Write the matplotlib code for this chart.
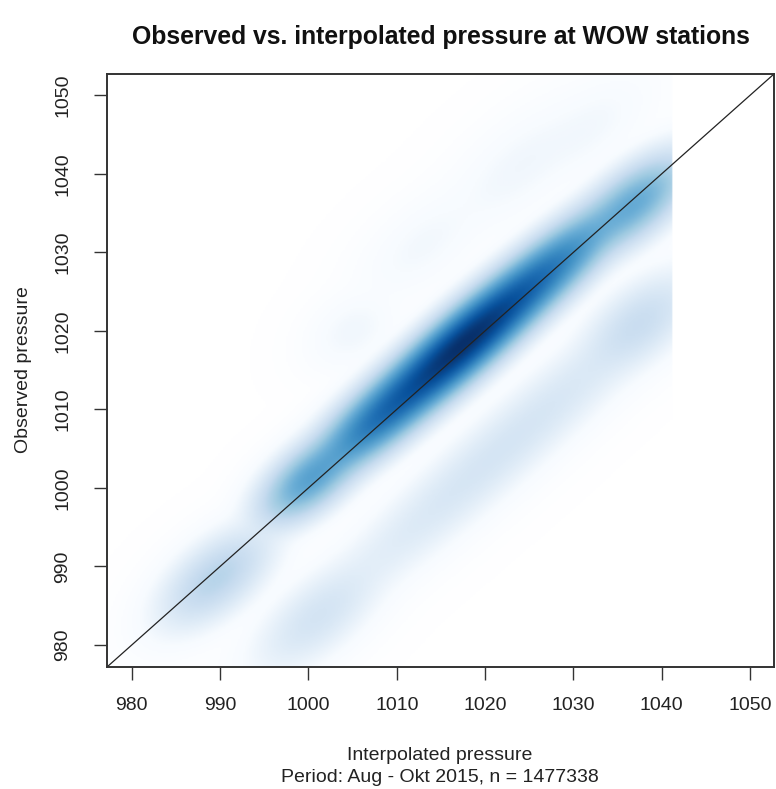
import numpy as np
import matplotlib
matplotlib.use("Agg")
import matplotlib.pyplot as plt
from matplotlib.colors import LinearSegmentedColormap

plt.rcParams["font.family"] = ["Liberation Sans", "DejaVu Sans"]

# density blobs: centre (x, y), spread along / across the 1:1 line, peak weight
blob_x = [1017.5, 1008.5, 1026.5, 1000.0, 1037.0, 989.5, 1022.0, 1037.5, 1001.0, 1005.0, 1013.0, 1024.0, 1032.0]
blob_y = [1018.3, 1009.5, 1027.0, 1001.0, 1036.3, 988.5, 1005.0, 1021.0, 983.5, 1020.0, 1031.0, 1041.0, 1046.0]
blob_along = [6.5, 5.0, 5.5, 3.0, 3.5, 3.5, 13.0, 3.5, 4.0, 2.5, 4.0, 5.0, 4.0]
blob_across = [1.55, 1.55, 1.55, 1.55, 1.65, 1.8, 1.9, 1.9, 1.9, 1.8, 2.0, 2.2, 2.0]
blob_weight = [1.0, 0.30, 0.26, 0.12, 0.10, 0.02, 0.005, 0.009, 0.005, 0.0004, 0.0003, 0.0004, 0.0003]
data_xmax = 1041.3

blues9 = ["#F7FBFF", "#DEEBF7", "#C6DBEF", "#9ECAE1", "#6BAED6",
          "#4292C6", "#2171B5", "#08519C", "#08306B"]
lims = (977.2, 1052.7)
xticks = [980, 990, 1000, 1010, 1020, 1030, 1040, 1050]

gx = np.linspace(lims[0], lims[1], 400)
X, Y = np.meshgrid(gx, gx)
dens = np.zeros_like(X)
for cx, cy, a, p, w in zip(blob_x, blob_y, blob_along, blob_across, blob_weight):
    u = ((X - cx) + (Y - cy)) / np.sqrt(2)
    v = ((Y - cy) - (X - cx)) / np.sqrt(2)
    dens += w * np.exp(-u ** 2 / (2 * a ** 2) - v ** 2 / (2 * p ** 2))
dens[X > data_xmax] = 0
dens = (dens / dens.max()) ** 0.25

cmap = LinearSegmentedColormap.from_list("sm", ["white"] + blues9)

fig = plt.figure(figsize=(7.76, 7.89), dpi=100)
ax = fig.add_axes([107 / 776, 1 - 667 / 789, 667 / 776, 593 / 789])
ax.imshow(dens, origin="lower", extent=(lims[0], lims[1], lims[0], lims[1]),
          cmap=cmap, vmin=0, vmax=1, aspect="auto", interpolation="bilinear")
ax.plot(lims, lims, color="#222222", lw=0.9)
ax.set_xlim(lims)
ax.set_ylim(lims)
ax.set_xticks(xticks)
ax.set_yticks(xticks)
ax.tick_params(direction="out", length=9.5, width=1.0, color="#333333",
               labelsize=14, labelcolor="#222222")
ax.tick_params(axis="x", pad=12)
ax.tick_params(axis="y", pad=16, labelrotation=90)
for t in ax.get_yticklabels():
    t.set_va("center")
for s in ax.spines.values():
    s.set_linewidth(1.4)
    s.set_color("#333333")

fig.text(441 / 776, 1 - 44 / 789, "Observed vs. interpolated pressure at WOW stations",
         ha="center", va="baseline", fontsize=17.8, fontweight="bold", color="#111111")
fig.text(440 / 776, 1 - 760 / 789, "Interpolated pressure", ha="center", va="baseline",
         fontsize=14, color="#222222")
fig.text(440 / 776, 1 - 782 / 789, "Period: Aug - Okt 2015, n = 1477338", ha="center",
         va="baseline", fontsize=14, color="#222222")
fig.text(24 / 776, 1 - 370 / 789, "Observed pressure", rotation=90, ha="center", va="center",
         fontsize=14, color="#222222")

fig.savefig("out.png", dpi=100)
